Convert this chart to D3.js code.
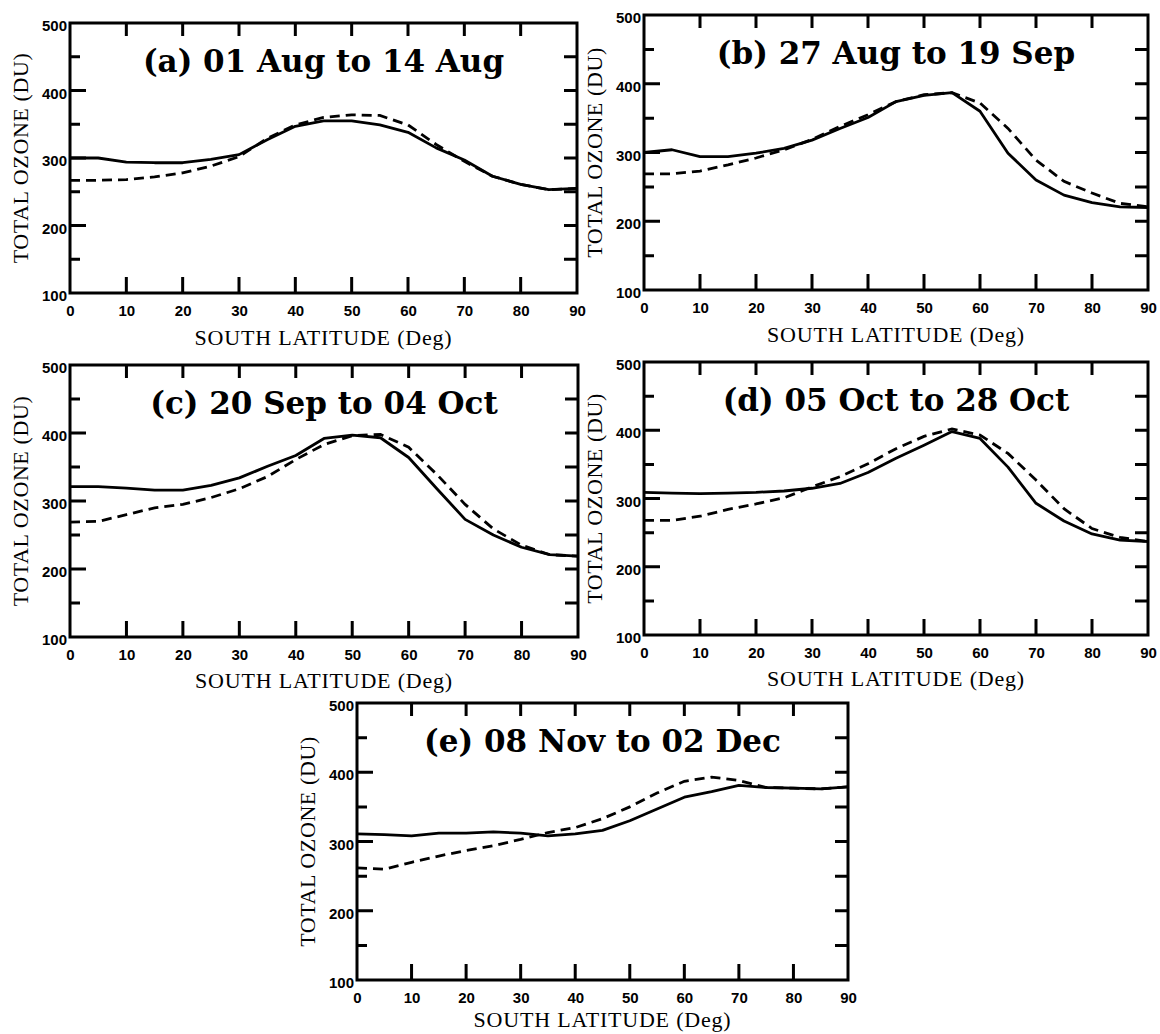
<!DOCTYPE html>
<html>
<head>
<meta charset="utf-8">
<script src="https://cdn.jsdelivr.net/npm/d3@7"></script>
<style>
  html, body { margin: 0; padding: 0; background: #fff; }
  svg { display: block; }
</style>
</head>
<body>
<svg id="chart" width="1160" height="1034"></svg>
<script>
// ---------------- DATA ----------------
const latitudes = [0,5,10,15,20,25,30,35,40,45,50,55,60,65,70,75,80,85,90];
const xTickValues = [0,10,20,30,40,50,60,70,80,90];
const xInnerTicks = [10,20,30,40,50,60,70,80];
const yTickLabels = [100,200,300,400,500];
const yMajorInner = [200,300,400];
const yMinorTicks = [150,250,350,450];
const panelTitles = [
  "(a) 01 Aug to 14 Aug",
  "(b) 27 Aug to 19 Sep",
  "(c) 20 Sep to 04 Oct",
  "(d) 05 Oct to 28 Oct",
  "(e) 08 Nov to 02 Dec"
];
const xAxisTitle = "SOUTH LATITUDE (Deg)";
const yAxisTitle = "TOTAL OZONE (DU)";

const solidA  = [300,300,294,293,293,298,305,327,347,355,355,349,338,315,297,273,261,253,255];
const dashedA = [267,267,268,272,278,288,302,329,349,360,364,363,349,320,295,273,261,253,255];
const solidB  = [300,304,294,294,299,306,318,335,351,374,383,387,360,299,260,238,227,221,220];
const dashedB = [269,269,273,282,292,304,319,338,355,374,384,387,372,335,289,258,241,226,221];
const solidC  = [321,321,319,316,316,323,334,351,367,392,397,393,364,318,273,250,232,221,219];
const dashedC = [269,270,280,290,295,305,318,336,361,383,396,398,379,339,295,259,235,221,219];
const solidD  = [309,308,307,308,309,311,315,322,338,359,378,398,388,346,293,267,248,239,237];
const dashedD = [268,268,274,284,292,301,317,332,351,373,391,402,393,366,327,285,256,243,237];
const solidE  = [311,310,308,312,312,314,312,308,311,316,330,347,364,372,381,378,377,376,379];
const dashedE = [262,260,270,279,287,294,303,313,320,333,350,370,387,393,388,378,377,376,379];

const solidSeries  = [solidA, solidB, solidC, solidD, solidE];
const dashedSeries = [dashedA, dashedB, dashedC, dashedD, dashedE];

// ---------------- LAYOUT ----------------
const boxes = [
  {x0: 70,  x1: 577,  y0: 23,  y1: 293, xt: 52},
  {x0: 644, x1: 1148, y0: 15,  y1: 290, xt: 52},
  {x0: 70,  x1: 578,  y0: 365, y1: 637, xt: 51},
  {x0: 644, x1: 1148, y0: 362, y1: 635, xt: 51},
  {x0: 357, x1: 848,  y0: 703, y1: 980, xt: 47}
];

const svg = d3.select("#chart");
svg.append("rect").attr("width",1160).attr("height",1034).attr("fill","#fff");

const tickFont = "'Liberation Sans', Arial, sans-serif";
const serifFont = "'Liberation Serif', 'Times New Roman', serif";
const titleFont = "'DejaVu Serif', serif";
const SW = 3;

boxes.forEach((b, i) => {
  const g = svg.append("g");
  const x = d3.scaleLinear().domain([0, 90]).range([b.x0, b.x1]);
  const y = d3.scaleLinear().domain([100, 500]).range([b.y1, b.y0]);

  // tick labels via axes
  const gb = g.append("g").attr("transform", `translate(0,${b.y1})`)
    .call(d3.axisBottom(x).tickValues(xTickValues).tickSize(0).tickPadding(12).tickFormat(d3.format("d")));
  const gl = g.append("g").attr("transform", `translate(${b.x0},0)`)
    .call(d3.axisLeft(y).tickValues(yTickLabels).tickSize(0).tickPadding(3).tickFormat(d3.format("d")));
  [gb, gl].forEach(ax => {
    ax.select(".domain").remove();
    ax.selectAll(".tick line").remove();
    ax.selectAll(".tick text").attr("fill", "#000")
      .style("font-family", tickFont).style("font-size", "15px").style("font-weight", "bold");
  });
  gl.selectAll(".tick text").attr("dy", "0.5em");

  // inward tick marks (as paths built from the scales)
  let dTicks = "";
  xInnerTicks.forEach(v => {
    const px = x(v);
    dTicks += `M${px},${b.y1}V${b.y1 - 16}`;
    dTicks += `M${px},${b.y0}V${b.y0 + 13}`;
  });
  yMajorInner.forEach(v => {
    const py = y(v);
    dTicks += `M${b.x0},${py}H${b.x0 + 16}`;
    dTicks += `M${b.x1},${py}H${b.x1 - 13}`;
  });
  yMinorTicks.forEach(v => {
    const py = y(v);
    dTicks += `M${b.x0},${py}H${b.x0 + 10}`;
    dTicks += `M${b.x1},${py}H${b.x1 - 13}`;
  });
  g.append("path").attr("d", dTicks)
    .attr("fill", "none").attr("stroke", "#000").attr("stroke-width", SW);

  // frame
  g.append("rect")
    .attr("x", b.x0).attr("y", b.y0)
    .attr("width", b.x1 - b.x0).attr("height", b.y1 - b.y0)
    .attr("fill", "none").attr("stroke", "#000").attr("stroke-width", SW);

  const line = d3.line()
    .x((d, k) => x(latitudes[k]))
    .y(d => y(d))
    .curve(d3.curveLinear);

  g.append("path").datum(dashedSeries[i])
    .attr("d", line).attr("fill", "none").attr("stroke", "#000")
    .attr("stroke-width", 2.8).attr("stroke-dasharray", "10,6");
  g.append("path").datum(solidSeries[i])
    .attr("d", line).attr("fill", "none").attr("stroke", "#000")
    .attr("stroke-width", 2.8).attr("stroke-linejoin", "round");

  // title
  g.append("text")
    .attr("x", (b.x0 + b.x1) / 2).attr("y", b.y0 + 49)
    .attr("text-anchor", "middle")
    .style("font-family", titleFont).style("font-weight", "bold").style("font-size", "31px")
    .text(panelTitles[i]);

  // x axis title
  g.append("text")
    .attr("x", (b.x0 + b.x1) / 2).attr("y", b.y1 + b.xt)
    .attr("text-anchor", "middle")
    .style("font-family", serifFont).style("font-size", "22px").style("letter-spacing", "0.8px")
    .text(xAxisTitle);

  // y axis title
  const cy = (b.y0 + b.y1) / 2;
  const cx = b.x0 - 42;
  g.append("text")
    .attr("transform", `translate(${cx},${cy}) rotate(-90)`)
    .attr("text-anchor", "middle")
    .style("font-family", serifFont).style("font-size", "22px").style("letter-spacing", "0.6px")
    .text(yAxisTitle);
});
</script>
</body>
</html>
